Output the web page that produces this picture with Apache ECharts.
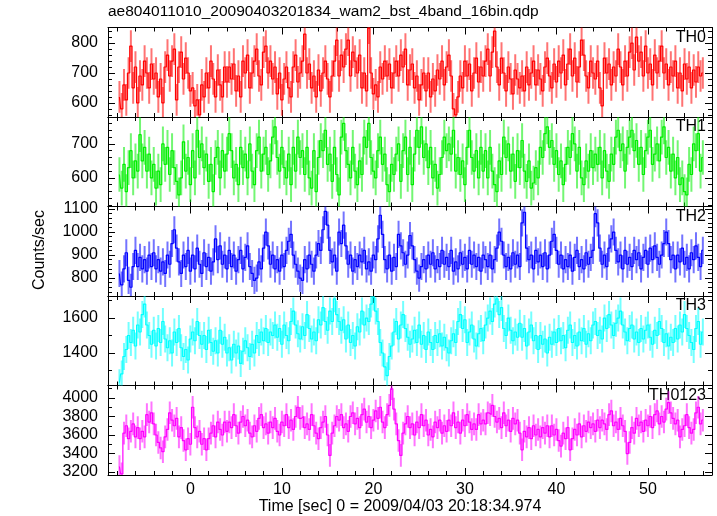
<!DOCTYPE html>
<html><head><meta charset="utf-8">
<script src="https://cdn.jsdelivr.net/npm/echarts@6/dist/echarts.min.js"></script>
<style>html,body{margin:0;padding:0;background:#fff}#c{width:717px;height:516px}</style>
</head><body><div id="c"></div>
<script>
const titleText = 'ae804011010_20090403201834_wam2_bst_4band_16bin.qdp';
const xLabel = 'Time [sec] 0 = 2009/04/03 20:18:34.974';
const yLabel = 'Counts/sec';
const bandNames = ['TH0', 'TH1', 'TH2', 'TH3', 'TH0123'];
const bandColors = ['#ff0000', '#00ee00', '#0000ff', '#00ffff', '#ff00ff'];
const binStart = -7.75, binWidth = 0.25;

const th0 = [
620,580,660,610,700,790,650,720,600,690,660,740,700,650,730,680,
700,620,680,600,720,760,690,740,780,610,720,770,680,750,700,640,
650,590,610,560,660,620,700,650,740,680,620,710,660,620,720,670,
720,680,730,640,690,620,740,700,760,650,700,740,780,690,660,770,
790,700,740,680,720,630,700,610,680,720,650,620,720,760,670,700,
740,830,700,730,650,690,620,710,640,700,740,680,620,690,740,810,
690,760,720,780,810,690,770,740,700,760,650,700,640,850,700,630,
660,620,720,680,740,690,730,650,700,740,690,760,720,780,660,710,
730,650,690,610,660,700,640,700,620,680,640,710,680,740,660,720,
760,690,580,560,620,690,650,740,690,730,640,700,750,670,720,690,
740,780,690,770,840,720,660,750,700,640,720,680,630,710,680,650,
690,640,720,660,700,740,660,710,680,640,720,750,690,650,730,670,
740,700,760,660,730,780,690,750,670,720,810,760,690,650,740,700,
680,740,650,590,750,700,730,660,720,690,780,720,660,740,690,770,
800,710,820,740,770,690,790,700,730,660,760,700,740,790,700,730,
660,720,690,740,650,700,640,730,680,720,650,710,670,720,690,700];

const th1 = [
610,570,640,560,630,680,600,650,620,727,650,690,620,670,600,640,
570,620,580,700,640,690,610,680,630,590,550,600,706,620,660,580,
680,600,740,660,700,630,670,590,640,560,660,690,600,680,620,670,
730,680,600,640,580,690,630,670,600,700,620,580,680,720,620,670,
690,610,650,720,750,660,620,690,630,600,670,580,690,620,720,660,
680,610,690,600,570,680,560,660,710,680,740,640,670,590,690,610,
550,720,760,680,640,600,690,620,580,650,610,720,690,760,660,620,
600,680,720,640,670,580,560,640,610,670,700,590,680,720,610,690,
580,670,740,690,750,660,700,630,690,600,640,570,610,660,720,680,
700,670,740,620,660,610,650,580,690,740,660,620,680,600,690,620,
680,600,690,620,580,560,650,610,720,660,700,620,670,590,680,630,
710,620,590,650,570,585,630,600,690,660,730,750,690,710,640,680,
610,650,580,640,690,660,730,700,620,690,600,580,650,620,680,630,
670,640,690,600,680,620,590,670,640,720,740,680,700,620,690,720,
740,680,710,640,690,610,680,720,740,640,670,700,650,720,750,660,
690,620,670,600,660,580,600,560,550,640,610,700,680,730,620,660];

const th2 = [
820,770,840,910,790,760,850,920,850,890,840,880,830,900,850,910,
840,880,830,870,820,900,860,950,1010,930,870,820,900,850,920,830,
900,840,930,860,820,910,850,890,830,870,970,880,940,860,900,840,
920,850,900,830,880,920,840,890,940,850,820,790,800,870,840,930,
1000,940,860,900,840,880,830,900,850,920,960,990,900,860,830,800,
790,880,840,900,860,830,900,950,920,1010,1090,1030,920,870,900,830,
1000,950,1030,940,860,900,830,880,850,900,870,920,840,870,830,900,
880,970,1073,990,880,840,900,830,890,850,990,940,910,860,900,985,
940,880,830,800,850,880,840,900,860,910,840,880,850,920,860,890,
850,920,830,870,840,910,860,890,840,920,860,900,850,890,830,900,
880,850,900,840,880,930,1000,960,900,850,890,840,910,860,900,850,
1040,1086,930,880,900,840,920,870,900,850,910,840,900,960,990,920,
860,900,840,880,850,900,830,890,920,850,880,840,910,860,890,920,
1080,1040,930,860,900,850,930,970,1000,920,870,900,840,920,860,890,
850,920,880,910,840,890,920,860,930,880,940,890,860,900,950,1000,
950,880,900,840,900,870,930,860,890,840,910,880,940,890,850,920];

const th3 = [
1230,1280,1380,1420,1500,1460,1530,1440,1560,1520,1620,1680,1560,1500,1450,1530,
1440,1540,1460,1580,1480,1430,1470,1400,1520,1460,1540,1430,1380,1420,1360,1480,
1520,1470,1580,1500,1450,1500,1420,1530,1460,1410,1470,1400,1530,1450,1490,1400,
1430,1360,1450,1400,1440,1340,1410,1470,1430,1380,1450,1400,1500,1460,1520,1470,
1540,1460,1520,1500,1560,1490,1540,1450,1560,1500,1470,1580,1640,1560,1510,1480,
1550,1500,1620,1540,1480,1520,1470,1590,1560,1660,1580,1530,1640,1580,1710,1620,
1580,1530,1590,1480,1560,1460,1500,1440,1550,1520,1640,1560,1600,1580,1680,1720,
1640,1580,1460,1400,1320,1270,1380,1440,1520,1580,1480,1560,1620,1540,1490,1450,
1480,1530,1460,1560,1450,1500,1420,1520,1460,1420,1500,1460,1510,1440,1490,1430,
1400,1470,1510,1460,1580,1620,1540,1590,1460,1520,1560,1480,1440,1510,1540,1470,
1560,1600,1640,1580,1680,1710,1620,1660,1540,1500,1600,1530,1470,1520,1490,1570,
1490,1540,1440,1520,1560,1470,1500,1420,1500,1450,1480,1400,1490,1450,1520,1460,
1540,1470,1500,1430,1530,1560,1460,1500,1440,1520,1470,1540,1450,1510,1470,1560,
1580,1500,1530,1480,1600,1540,1620,1560,1500,1570,1600,1640,1560,1520,1470,1540,
1560,1480,1520,1460,1540,1480,1530,1560,1490,1450,1530,1500,1580,1540,1460,1510,
1440,1490,1460,1540,1480,1560,1520,1620,1540,1500,1460,1420,1540,1580,1450,1520];

const th0123 = [
3260,3180,3620,3700,3560,3640,3720,3580,3680,3560,3640,3580,3820,3740,3840,3720,
3600,3520,3460,3420,3580,3660,3840,3760,3700,3780,3580,3680,3540,3440,3560,3500,
3900,3680,3580,3640,3500,3560,3440,3560,3620,3700,3580,3740,3660,3600,3740,3640,
3740,3680,3820,3700,3620,3740,3800,3700,3760,3620,3580,3700,3640,3780,3820,3680,
3720,3620,3740,3680,3780,3640,3600,3740,3700,3820,3680,3760,3660,3800,3900,3780,
3800,3680,3720,3660,3820,3700,3620,3560,3680,3740,3800,3600,3380,3620,3700,3800,
3760,3820,3680,3720,3640,3800,3840,3720,3780,3680,3820,3880,3740,3800,3680,3760,
3860,3780,3900,3740,3680,3820,3920,4100,3880,3720,3540,3380,3620,3720,3800,3680,
3720,3600,3740,3680,3820,3700,3760,3600,3660,3580,3740,3680,3760,3620,3700,3640,
3760,3700,3840,3680,3740,3620,3760,3700,3820,3740,3660,3720,3660,3820,3720,3760,
3720,3840,3820,3920,3800,3740,3780,3680,3840,3700,3760,3640,3780,3720,3760,3620,
3440,3640,3580,3680,3560,3700,3600,3660,3580,3680,3620,3700,3580,3700,3600,3660,
3540,3480,3620,3560,3680,3440,3560,3660,3600,3720,3580,3700,3640,3740,3680,3720,
3640,3760,3680,3760,3720,3660,3820,3860,3700,3740,3660,3780,3700,3640,3400,3520,
3680,3620,3780,3700,3740,3640,3760,3700,3800,3680,3820,3860,3720,3800,3740,3880,
3950,3840,3780,3720,3760,3580,3660,3700,3820,3680,3620,3660,3840,3900,3720,3760];

const bands = [th0, th1, th2, th3, th0123];
const errHalf = [53, 51, 59, 77, 122];

const yMin = [553, 516, 722, 1214, 3168];
const yMax = [852, 779, 1111, 1726, 4135];
const yMajor = [100, 100, 100, 200, 200];
const yMinorSplit = [5, 5, 5, 2, 2];
const xMin = -9, xMax = 57, xMajor = 10, xMinorSplit = 5;

const FONT = '"Liberation Sans", Arial, Helvetica, sans-serif';
const plotLeft = 108, plotWidth = 604, plotTop = 27.5, panelH = 89.5;

const chart = echarts.init(document.getElementById('c'), null, {renderer: 'canvas'});

const grids = [], xAxes = [], yAxes = [], series = [], graphics = [];
const black = {color: '#000', width: 1};

bands.forEach((vals, i) => {
  const top = plotTop + i * panelH;
  grids.push({left: plotLeft, width: plotWidth, top: top, height: panelH, containLabel: false});
  ['bottom', 'top'].forEach((pos, j) => {
    xAxes.push({
      gridIndex: i, type: 'value', position: pos, min: xMin, max: xMax,
      minInterval: xMajor, maxInterval: xMajor,
      axisLine: {show: true, onZero: false, lineStyle: black},
      axisTick: {show: true, inside: true, length: 7, lineStyle: black},
      minorTick: {show: true, splitNumber: xMinorSplit, length: 4, lineStyle: black},
      splitLine: {show: false}, minorSplitLine: {show: false},
      axisLabel: {show: (i === 4 && j === 0), showMinLabel: false, showMaxLabel: false,
        color: '#000', fontSize: 16, fontFamily: FONT, margin: 7,
        formatter: v => String(v)}
    });
  });
  ['left', 'right'].forEach((pos, j) => {
    yAxes.push({
      gridIndex: i, type: 'value', position: pos, min: yMin[i], max: yMax[i],
      minInterval: yMajor[i], maxInterval: yMajor[i],
      axisLine: {show: true, onZero: false, lineStyle: black},
      axisTick: {show: true, inside: true, length: 7, lineStyle: black},
      minorTick: {show: true, splitNumber: yMinorSplit[i], length: 4, lineStyle: black},
      splitLine: {show: false}, minorSplitLine: {show: false},
      axisLabel: {show: j === 0, showMinLabel: false, showMaxLabel: false,
        color: '#000', fontSize: 16, fontFamily: FONT, margin: 10,
        formatter: v => String(v)}
    });
  });
  const color = bandColors[i];
  const pts = vals.map((v, k) => [binStart + k * binWidth, v]);
  const errPts = vals.map((v, k) => [binStart + k * binWidth, v, v - errHalf[i], v + errHalf[i]]);
  series.push({
    type: 'custom', xAxisIndex: 2 * i, yAxisIndex: 2 * i, clip: true, silent: true,
    data: errPts,
    renderItem: (params, api) => {
      const x = api.value(0);
      const p1 = api.coord([x, api.value(2)]);
      const p2 = api.coord([x, api.value(3)]);
      return {type: 'line', shape: {x1: p1[0], y1: p1[1], x2: p2[0], y2: p2[1]},
        style: {stroke: color, lineWidth: 2, opacity: 0.55}};
    }
  });
  series.push({
    type: 'line', xAxisIndex: 2 * i, yAxisIndex: 2 * i, step: 'middle',
    symbol: 'none', showSymbol: false, clip: true, silent: true,
    lineStyle: {color: color, width: 1.2}, data: pts
  });
  graphics.push({type: 'text', x: plotLeft + plotWidth - 6, y: top + 2,
    style: {text: bandNames[i], fill: '#000', font: '16px ' + FONT, align: 'right', verticalAlign: 'top'}});
});

graphics.push({type: 'text', x: plotLeft, y: 4,
  style: {text: titleText, fill: '#000', font: '15.5px ' + FONT, align: 'left', verticalAlign: 'top'}});
graphics.push({type: 'text', x: 40, y: 250, rotation: Math.PI / 2,
  style: {text: yLabel, fill: '#000', font: '16px ' + FONT, align: 'center', verticalAlign: 'middle'}});
graphics.push({type: 'text', x: 400, y: 507,
  style: {text: xLabel, fill: '#000', font: '16px ' + FONT, align: 'center', verticalAlign: 'middle'}});

chart.setOption({
  animation: false,
  backgroundColor: '#fff',
  grid: grids, xAxis: xAxes, yAxis: yAxes, series: series, graphic: graphics
});
</script></body></html>
